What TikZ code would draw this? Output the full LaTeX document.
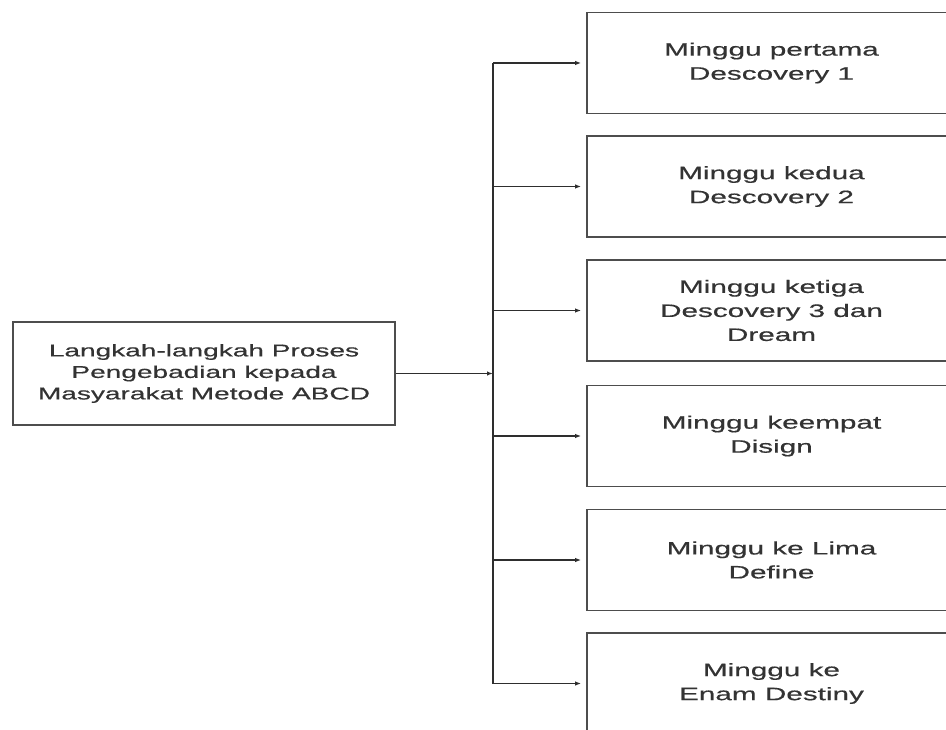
\documentclass[tikz,border=0pt]{standalone}
\usepackage{fontspec}
\setmainfont{Liberation Sans}[FakeStretch=1.65,FakeBold=0.5]
\usetikzlibrary{arrows.meta}
\definecolor{ln}{HTML}{2e2e2e}
\definecolor{bx}{HTML}{4d4d4d}
\definecolor{tx}{HTML}{333333}
\begin{document}
\begin{tikzpicture}[x=1pt,y=-1pt,
  leftbox/.style={draw=bx, line width=1.8pt, rectangle, inner sep=0pt,
    minimum width=382pt, minimum height=103pt, align=center, text=tx,
    font=\fontsize{17}{21.5}\selectfont},
  weekbox/.style={draw=bx, line width=1.8pt, rectangle, inner sep=0pt,
    minimum width=369pt, minimum height=101pt, align=center, text=tx,
    font=\fontsize{18}{24}\selectfont},
  conn/.style={draw=ln, line width=1.5pt},
  arr/.style={conn, -{Latex[length=6pt,width=4.5pt]}, shorten >=5pt}]
\useasboundingbox (0,0) rectangle (946,730);
\clip (0,0) rectangle (946,730);
\fill[white] (0,0) rectangle (946,730);

\node[leftbox] (src) at (204,373.5) {Langkah-langkah Proses\\Pengebadian kepada\\Masyarakat Metode ABCD};

\node[weekbox] (w1) at (771.5,63)    {Minggu pertama\\Descovery 1};
\node[weekbox] (w2) at (771.5,186.5) {Minggu kedua\\Descovery 2};
\node[weekbox] (w3) at (771.5,310.5) {Minggu ketiga\\Descovery 3 dan\\Dream};
\node[weekbox] (w4) at (771.5,436)   {Minggu keempat\\Disign};
\node[weekbox] (w5) at (771.5,560)   {Minggu ke Lima\\Define};
\node[weekbox] (w6) at (771.5,683.5) {Minggu ke\\Enam Destiny};

\coordinate (s1) at (493,63);
\coordinate (s2) at (493,186.5);
\coordinate (s3) at (493,310.5);
\coordinate (s4) at (493,436);
\coordinate (s5) at (493,560);
\coordinate (s6) at (493,683.5);
\coordinate (sm) at (493,373.5);

\draw[conn] (s1) -- (s6);
\draw[arr, shorten >=0pt] (src.east) -- (sm);
\draw[arr] (s1) -- (w1.west);
\draw[arr] (s2) -- (w2.west);
\draw[arr] (s3) -- (w3.west);
\draw[arr] (s4) -- (w4.west);
\draw[arr] (s5) -- (w5.west);
\draw[arr] (s6) -- (w6.west);
\end{tikzpicture}
\end{document}
